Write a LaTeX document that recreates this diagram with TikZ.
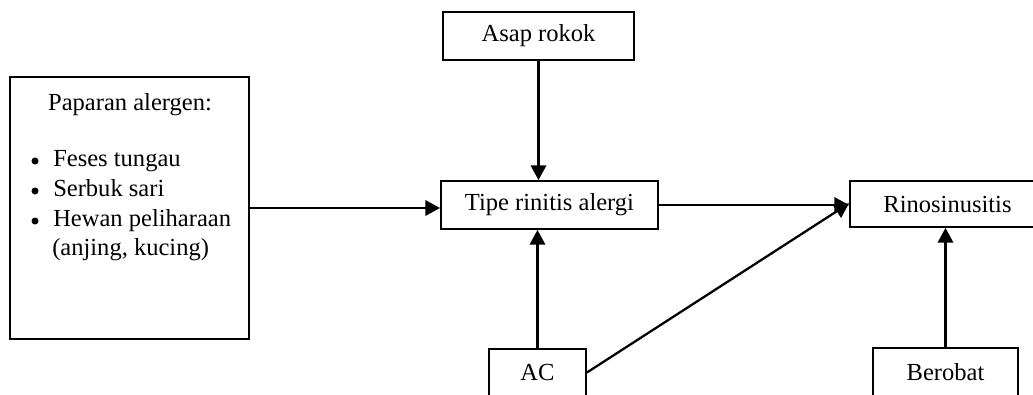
\documentclass[tikz,border=0pt]{standalone}
\usepackage{fontspec}
\setmainfont{Liberation Serif}
\usetikzlibrary{arrows.meta}
\begin{document}
\begin{tikzpicture}[x=0.75pt,y=-0.75pt,
  box/.style={draw,line width=1.4pt,inner sep=0pt,font=\fontsize{18.4}{22}\selectfont},
  txt/.style={inner sep=0pt,anchor=base west,font=\fontsize{18.4}{22}\selectfont},
  dot/.style={circle,fill,inner sep=0pt,minimum size=7*0.75pt},
  arr/.style={line width=1.7pt,-{Triangle[length=11pt,width=11.5pt]}}]
\useasboundingbox (0,0) rectangle (1033,394);
\node[box,minimum width=239*0.75pt,minimum height=262*0.75pt] (pap) at (129.5,208) {};
\node[txt,anchor=base] (t0) at (130,110) {Paparan alergen:};
\node[dot] (b1) at (35,161) {};
\node[txt] (t1) at (53,166) {Feses tungau};
\node[dot] (b2) at (35,191) {};
\node[txt] (t2) at (53,196) {Serbuk sari};
\node[dot] (b3) at (35,221) {};
\node[txt] (t3) at (53,226) {Hewan peliharaan};
\node[txt] (t4) at (52,255) {(anjing, kucing)};
\node[box,minimum width=191*0.75pt,minimum height=48*0.75pt] (asap) at (538.5,36) {Asap rokok};
\node[box,minimum width=217*0.75pt,minimum height=48*0.75pt] (tipe) at (549.5,205) {Tipe rinitis alergi};
\node[box,minimum width=195*0.75pt,minimum height=46*0.75pt] (rino) at (947.5,204) {Rinosinusitis};
\node[box,minimum width=97*0.75pt,minimum height=47*0.75pt] (ac) at (537.5,372.5) {AC};
\node[box,minimum width=145*0.75pt,minimum height=48*0.75pt] (ber) at (945.5,372) {Berobat};
\draw[arr] (pap.east) -- (pap.east -| tipe.west);
\draw[arr] (asap.south) -- (asap.south |- tipe.north);
\draw[arr] (ac.north) -- (ac.north |- tipe.south);
\draw[arr] (tipe.east) -- (tipe.east -| rino.west);
\draw[arr] (ac.east) -- ([yshift=0.5pt]rino.west);
\draw[arr] (ber.north) -- (ber.north |- rino.south);
\end{tikzpicture}
\end{document}
